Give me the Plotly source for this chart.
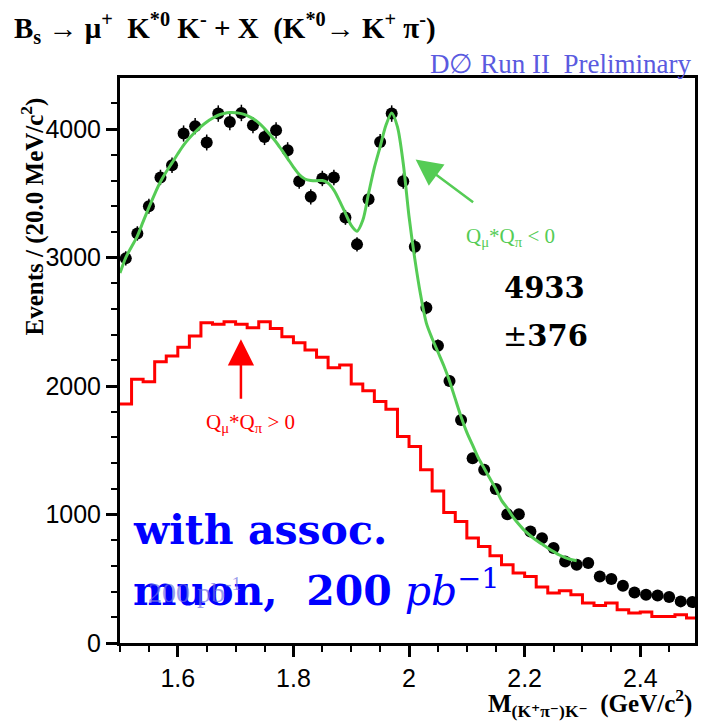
import plotly.graph_objects as go

# Binning of the K*0 K- invariant mass (GeV/c^2), 20 MeV bins
bin_lo, bin_w, n_bins = 1.50, 0.02, 50
edges = [round(bin_lo + i * bin_w, 2) for i in range(n_bins + 1)]
centers = [round(bin_lo + (i + 0.5) * bin_w, 2) for i in range(n_bins)]

# Opposite-sign sample (Q_mu*Q_pi < 0): events per bin and errors
data_os = [2994, 3188, 3400, 3624, 3719, 3966, 4023, 3896, 4121, 4056,
           4126, 4030, 3939, 3991, 3836, 3595, 3473, 3616, 3624, 3313,
           3103, 3455, 3900, 4121, 3595, 3084, 2610, 2314, 2040, 1736,
           1439, 1348, 1198, 1003, 1003, 868, 816, 739, 635, 609,
           622, 518, 498, 446, 393, 376, 370, 358, 324, 319]
err_os = [55, 56, 58, 60, 61, 63, 63, 62, 64, 64,
          64, 63, 63, 63, 62, 60, 59, 60, 60, 58,
          56, 59, 62, 64, 60, 56, 51, 48, 45, 42,
          38, 37, 35, 32, 32, 29, 29, 27, 25, 25,
          25, 23, 22, 21, 20, 19, 19, 19, 18, 18]

# Same-sign sample (Q_mu*Q_pi > 0), histogram contents
hist_ss = [1861, 2053, 2034, 2190, 2234, 2302, 2390, 2493, 2481, 2501,
           2481, 2454, 2501, 2449, 2384, 2337, 2281, 2224, 2143, 2164,
           2016, 1964, 1879, 1820, 1607, 1529, 1348, 1184, 1016, 946,
           817, 751, 679, 609, 544, 518, 435, 389, 407, 376,
           311, 292, 311, 259, 233, 241, 207, 207, 220, 194]

# Fit curve to the opposite-sign sample
fit_x = [1.50, 1.51, 1.52, 1.53, 1.54, 1.55, 1.56, 1.57, 1.58, 1.59,
         1.60, 1.61, 1.62, 1.63, 1.64, 1.65, 1.66, 1.67, 1.68, 1.69,
         1.70, 1.71, 1.72, 1.73, 1.74, 1.75, 1.76, 1.77, 1.78, 1.79,
         1.80, 1.81, 1.82, 1.83, 1.84, 1.85, 1.86, 1.87, 1.88, 1.89,
         1.90, 1.91, 1.92, 1.93, 1.94, 1.95, 1.96, 1.97, 1.98, 1.99,
         2.00, 2.01, 2.02, 2.03, 2.04, 2.05, 2.06, 2.07, 2.08, 2.09,
         2.10, 2.11, 2.12, 2.13, 2.14, 2.15, 2.16, 2.17, 2.18, 2.19,
         2.20, 2.21, 2.22, 2.23, 2.24, 2.25, 2.26, 2.27, 2.28, 2.29]
fit_y = [2880, 3000, 3085, 3167, 3280, 3390, 3495, 3590, 3668, 3737,
         3808, 3875, 3930, 3978, 4020, 4056, 4085, 4108, 4122, 4129,
         4128, 4121, 4105, 4082, 4048, 4005, 3955, 3900, 3836, 3771,
         3705, 3647, 3612, 3600, 3598, 3600, 3580, 3525, 3440, 3344,
         3250, 3205, 3290, 3499, 3700, 3862, 4030, 4126, 4017, 3732,
         3320, 2990, 2710, 2490, 2370, 2265, 2160, 2040, 1900, 1762,
         1640, 1540, 1440, 1360, 1280, 1200, 1110, 1050, 980, 925,
         875, 835, 800, 770, 740, 712, 685, 665, 650, 640]

signal_yield = "4933"
signal_error = "376"

W, H = 701, 721
L, R, T, B = 120, 3, 78, 78


def px(xp):
    return (xp - L) / (W - L - R)


def py(yp):
    return (H - B - yp) / (H - T - B)


GREEN = "#55cc55"
RED = "#ff0000"
SERIF = "Liberation Serif, DejaVu Serif, serif"
SANS = "Liberation Sans, Arial, sans-serif"

fig = go.Figure()

fig.add_trace(go.Scatter(
    x=edges, y=hist_ss + [hist_ss[-1]], mode="lines",
    line=dict(shape="hv", color=RED, width=3), hoverinfo="skip"))

fig.add_trace(go.Scatter(
    x=centers, y=data_os, mode="markers",
    marker=dict(color="black", size=12),
    error_y=dict(type="data", array=err_os, color="black",
                 thickness=1.5, width=0)))

fig.add_trace(go.Scatter(
    x=fit_x, y=fit_y, mode="lines",
    line=dict(shape="spline", smoothing=0.8, color=GREEN, width=3)))

axis_common = dict(
    showline=True, linecolor="black", linewidth=3, mirror=True,
    ticks="outside", ticklen=11, tickwidth=3, tickcolor="black",
    showgrid=False, zeroline=False,
    tickfont=dict(family=SANS, size=25, color="black"),
)

fig.update_xaxes(range=[1.5, 2.4947], dtick=0.2, tick0=1.6,
                 minor=dict(dtick=0.05, ticklen=6, tickwidth=2,
                            ticks="outside", tickcolor="black"),
                 **axis_common)
fig.update_yaxes(range=[0, 4398], dtick=1000, tick0=0,
                 minor=dict(dtick=200, ticklen=6, tickwidth=2,
                            ticks="outside", tickcolor="black"),
                 **axis_common)

annotations = [
    # title
    dict(xref="paper", yref="paper", x=px(11), y=py(28),
         xanchor="left", yanchor="middle", showarrow=False,
         text="<b>B<sub>s</sub> → μ<sup>+</sup>\u00a0 K<sup>*0</sup> K<sup>-</sup> + X"
              "\u00a0 (K<sup>*0</sup>→ K<sup>+</sup> π<sup>-</sup>)</b>",
         font=dict(family=SERIF, size=29, color="black")),
    # experiment tag
    dict(xref="paper", yref="paper", x=px(696), y=py(64),
         xanchor="right", yanchor="middle", showarrow=False,
         text="D∅ Run II\u00a0 Preliminary",
         font=dict(family=SERIF, size=27, color="#5a5ae0")),
    # y axis title
    dict(xref="paper", yref="paper", x=px(32), y=py(216),
         xanchor="center", yanchor="middle", showarrow=False, textangle=-90,
         text="<b>Events / (20.0 MeV/c<sup>2</sup>)</b>",
         font=dict(family=SERIF, size=25, color="black")),
    # x axis title
    dict(xref="paper", yref="paper", x=px(697), y=py(703),
         xanchor="right", yanchor="middle", showarrow=False,
         text="<b>M<sub>(K⁺π⁻)K⁻</sub>\u00a0 (GeV/c<sup>2</sup>)</b>",
         font=dict(family=SERIF, size=25, color="black")),
    # signal yield
    dict(xref="paper", yref="paper", x=px(547), y=py(288),
         xanchor="center", yanchor="middle", showarrow=False,
         text="<b>" + signal_yield + "</b>",
         font=dict(family="DejaVu Serif", size=29, color="black")),
    dict(xref="paper", yref="paper", x=px(548), y=py(336),
         xanchor="center", yanchor="middle", showarrow=False,
         text="±<b>" + signal_error + "</b>",
         font=dict(family="DejaVu Serif", size=29, color="black")),
    # sample labels
    dict(xref="paper", yref="paper", x=px(131), y=py(530),
         xanchor="left", yanchor="middle", showarrow=False,
         text="<b>with assoc.</b>",
         font=dict(family="DejaVu Serif", size=41, color="#0000ff")),
    dict(xref="paper", yref="paper", x=px(131), y=py(588),
         xanchor="left", yanchor="middle", showarrow=False,
         text="<b>muon,\u00a0 200</b> <i>pb</i><sup>−1</sup>",
         font=dict(family="DejaVu Serif", size=41, color="#0000ff")),
    dict(xref="paper", yref="paper", x=px(146), y=py(590),
         xanchor="left", yanchor="middle", showarrow=False,
         text="200 pb<sup>-1</sup>",
         font=dict(family=SERIF, size=28, color="rgba(110,110,225,0.7)")),
    # charge-correlation arrows and labels
    dict(xref="x", yref="y", x=2.0114, y=3764, ax=59, ay=44,
         showarrow=True, arrowhead=2, arrowsize=2.1, arrowwidth=2.5,
         arrowcolor=GREEN, text=""),
    dict(xref="paper", yref="paper", x=px(513), y=py(237),
         xanchor="center", yanchor="middle", showarrow=False,
         text="Q<sub>μ</sub>*Q<sub>π</sub> &lt; 0",
         font=dict(family=SERIF, size=21, color=GREEN)),
    dict(xref="x", yref="y", x=1.7092, y=2364, ax=0, ay=61,
         showarrow=True, arrowhead=2, arrowsize=2.1, arrowwidth=2.5,
         arrowcolor=RED, text=""),
    dict(xref="paper", yref="paper", x=px(251), y=py(423),
         xanchor="center", yanchor="middle", showarrow=False,
         text="Q<sub>μ</sub>*Q<sub>π</sub> &gt; 0",
         font=dict(family=SERIF, size=21, color=RED)),
]

fig.update_layout(
    width=W, height=H, margin=dict(l=L, r=R, t=T, b=B),
    paper_bgcolor="white", plot_bgcolor="white",
    showlegend=False, annotations=annotations,
)

fig.write_html("out.html")
